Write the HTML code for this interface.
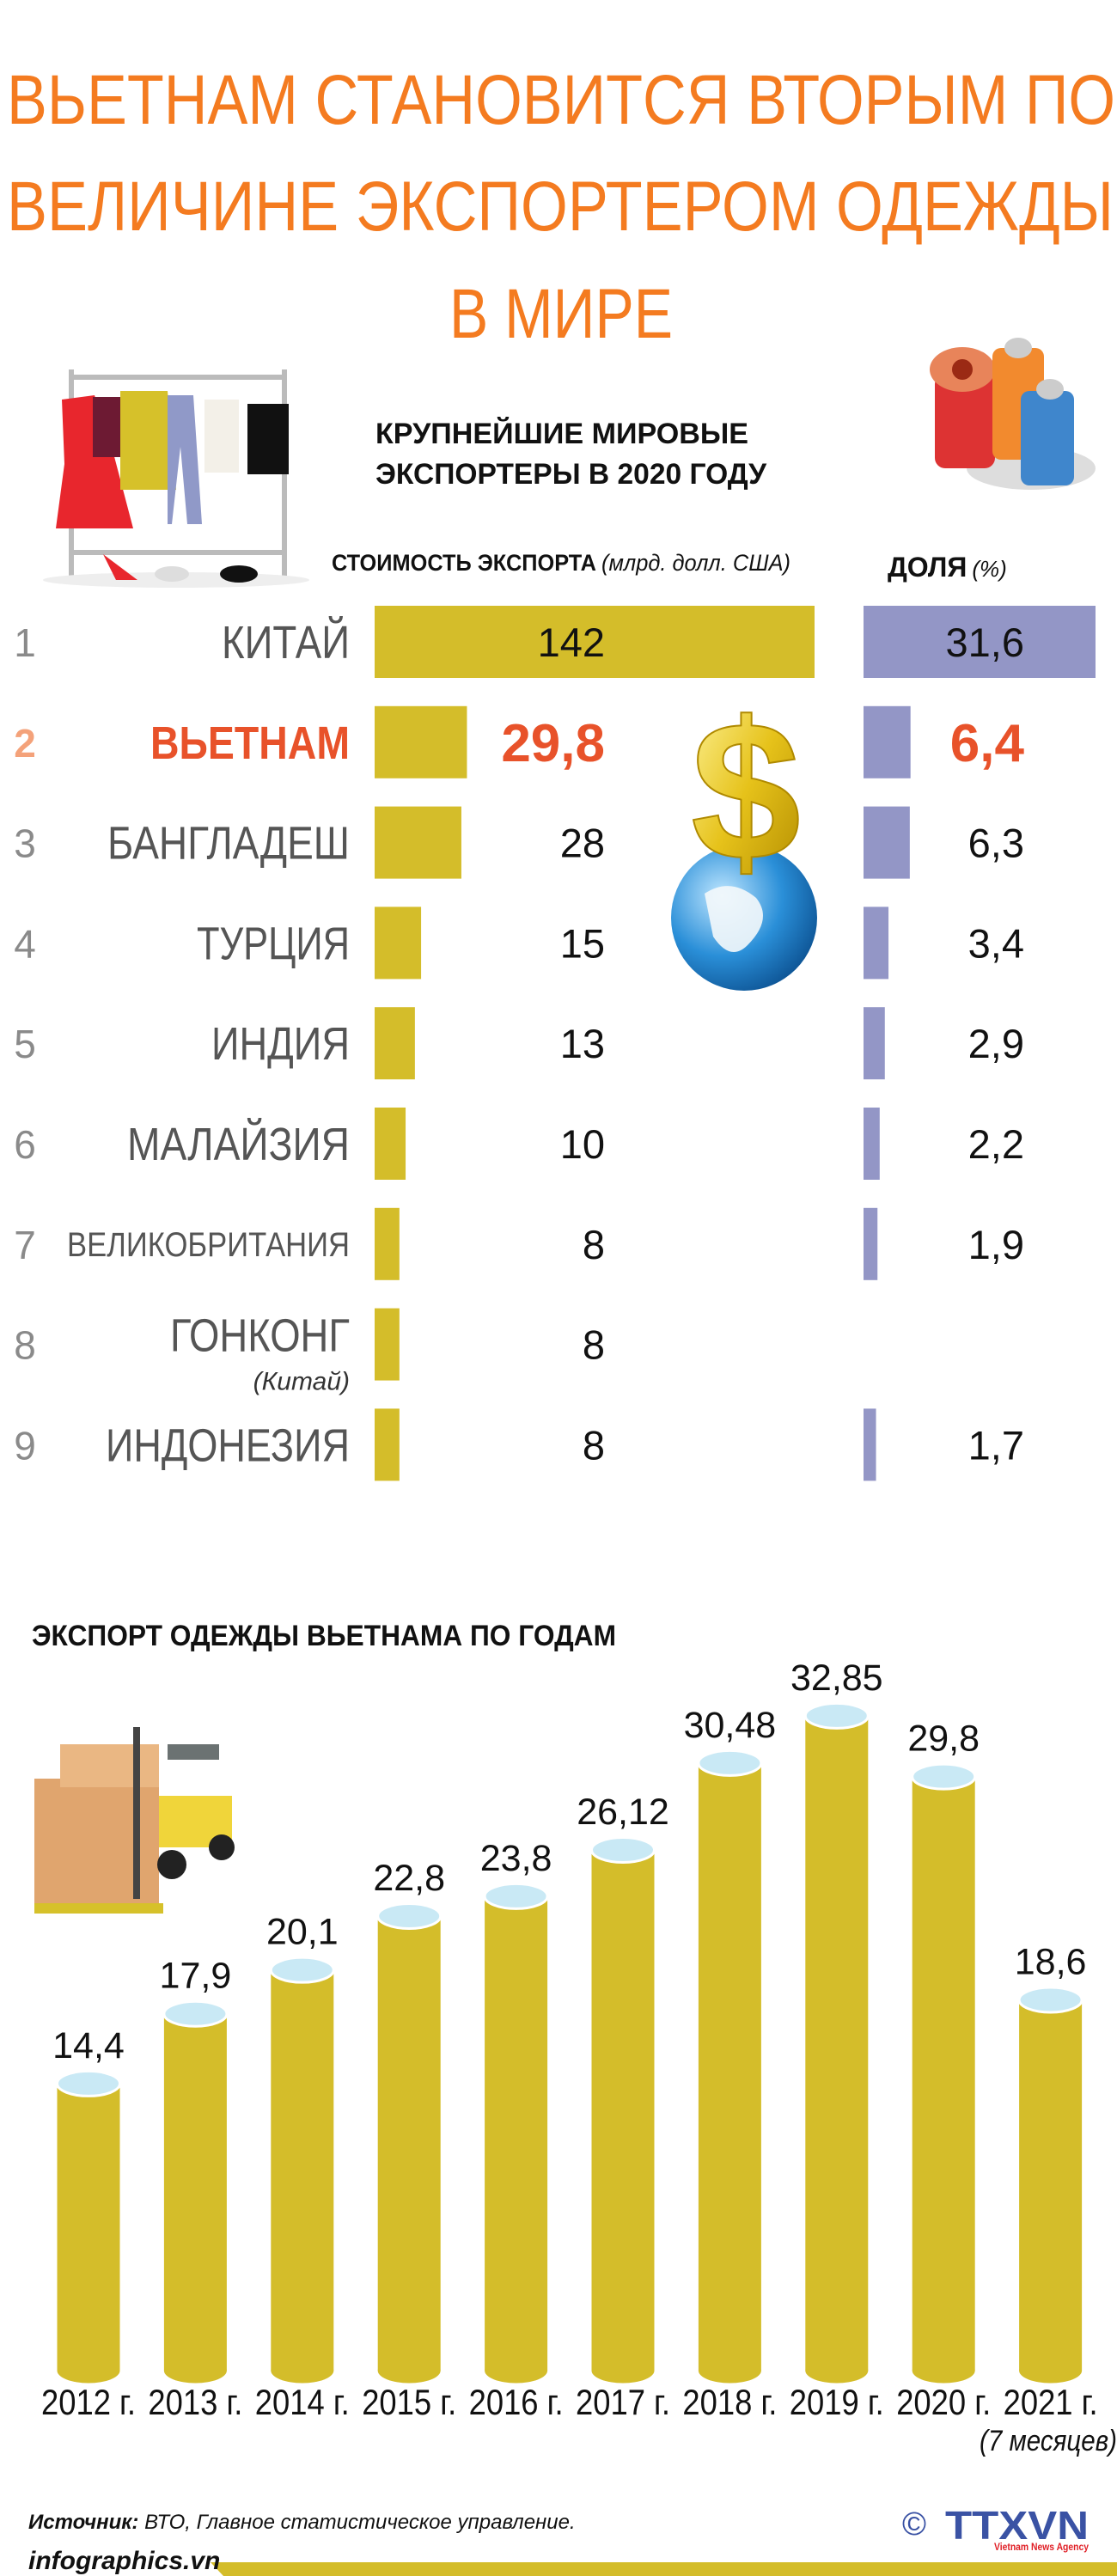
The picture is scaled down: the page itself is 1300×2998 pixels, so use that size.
<!DOCTYPE html>
<html><head><meta charset="utf-8"><style>
html,body{margin:0;padding:0;background:#fff;}
svg{display:block;font-family:"Liberation Sans",sans-serif;}
</style></head><body>
<svg id="root" width="1300" height="2998" viewBox="0 0 1300 2998" xmlns="http://www.w3.org/2000/svg">
<defs>
<radialGradient id="globeG" cx="0.35" cy="0.35" r="0.75"><stop offset="0" stop-color="#bfe6ff"/><stop offset="0.55" stop-color="#2a8fd8"/><stop offset="1" stop-color="#0b4f8f"/></radialGradient>
<linearGradient id="goldG" x1="0" y1="0" x2="1" y2="1"><stop offset="0" stop-color="#fff6a0"/><stop offset="0.5" stop-color="#e6c21a"/><stop offset="1" stop-color="#b08a00"/></linearGradient>
</defs>
<g fill="#f47b20" font-size="82">
<text x="8" y="144" textLength="1290" lengthAdjust="spacingAndGlyphs">ВЬЕТНАМ СТАНОВИТСЯ ВТОРЫМ ПО</text>
<text x="8" y="268" textLength="1288" lengthAdjust="spacingAndGlyphs">ВЕЛИЧИНЕ ЭКСПОРТЕРОМ ОДЕЖДЫ</text>
<text x="523" y="393" textLength="260" lengthAdjust="spacingAndGlyphs">В МИРЕ</text>
</g>
<g>
<rect x="80" y="430" width="6" height="240" fill="#bbb"/><rect x="328" y="430" width="6" height="240" fill="#bbb"/>
<rect x="80" y="436" width="254" height="6" fill="#bbb"/><rect x="80" y="640" width="254" height="6" fill="#bbb"/>
<ellipse cx="205" cy="675" rx="155" ry="9" fill="#eee"/>
<path d="M72 465 L110 460 L130 520 L155 615 L65 615 L75 540 Z" fill="#e8262d"/>
<rect x="108" y="462" width="48" height="70" fill="#6d1a33"/>
<path d="M140 455 L195 455 L205 570 L140 570 Z" fill="#d6c12a"/>
<path d="M195 460 L225 460 L235 610 L218 610 L210 520 L200 610 L195 610 Z" fill="#9099c8"/>
<rect x="238" y="465" width="40" height="85" fill="#f3f0e8"/>
<rect x="288" y="470" width="48" height="82" fill="#111"/>
<path d="M120 645 L135 675 L160 675 Z" fill="#e8262d"/><ellipse cx="200" cy="668" rx="20" ry="9" fill="#ddd"/><ellipse cx="278" cy="668" rx="22" ry="10" fill="#111"/>
</g>
<g>
<ellipse cx="1200" cy="545" rx="75" ry="25" fill="#ddd"/>
<rect x="1088" y="435" width="70" height="110" rx="12" fill="#d33"/><ellipse cx="1120" cy="430" rx="38" ry="26" fill="#e8845a"/><circle cx="1120" cy="430" r="12" fill="#9b2a14"/>
<rect x="1155" y="405" width="60" height="130" rx="10" fill="#f28a2e"/><ellipse cx="1185" cy="405" rx="16" ry="12" fill="#ccc"/>
<rect x="1188" y="455" width="62" height="110" rx="10" fill="#3f86cc"/><ellipse cx="1222" cy="453" rx="16" ry="12" fill="#ccc"/>
</g>
<g font-weight="bold" font-size="34" fill="#111">
<text x="437" y="516" textLength="434" lengthAdjust="spacingAndGlyphs">КРУПНЕЙШИЕ МИРОВЫЕ</text>
<text x="437" y="563" textLength="455" lengthAdjust="spacingAndGlyphs">ЭКСПОРТЕРЫ В 2020 ГОДУ</text>
</g>
<text x="386" y="664" font-size="27" fill="#111"><tspan font-weight="bold" textLength="308" lengthAdjust="spacingAndGlyphs">СТОИМОСТЬ ЭКСПОРТА</tspan><tspan font-style="italic" dx="6" textLength="220" lengthAdjust="spacingAndGlyphs">(млрд. долл. США)</tspan></text>
<text x="1033" y="671" font-size="32" fill="#111"><tspan font-weight="bold">ДОЛЯ</tspan><tspan font-style="italic" font-size="26" dx="6">(%)</tspan></text>
<g id="rank"></g>
<g>
<circle cx="866" cy="1068" r="85" fill="url(#globeG)"/>
<path d="M820 1040 Q850 1020 880 1045 Q900 1070 870 1100 Q850 1120 830 1090 Z" fill="#f4f8fb" opacity="0.9"/>
<text x="868" y="1000" font-size="230" font-weight="bold" text-anchor="middle" fill="url(#goldG)" stroke="#b08a00" stroke-width="2">$</text>
</g>
<text x="37" y="1915" font-size="34" font-weight="bold" fill="#111" textLength="680" lengthAdjust="spacingAndGlyphs">ЭКСПОРТ ОДЕЖДЫ ВЬЕТНАМА ПО ГОДАМ</text>
<g>
<rect x="40" y="2070" width="145" height="150" fill="#e0a56e"/><rect x="70" y="2030" width="115" height="50" fill="#eab783"/>
<rect x="40" y="2215" width="150" height="12" fill="#d6c12a"/>
<rect x="155" y="2010" width="8" height="200" fill="#444"/>
<rect x="185" y="2090" width="85" height="60" fill="#f0d53a"/><rect x="195" y="2030" width="60" height="18" fill="#6b7272"/>
<circle cx="200" cy="2170" r="17" fill="#222"/><circle cx="258" cy="2150" r="15" fill="#222"/>
</g>
<g id="years"></g>
<text x="1300" y="2852" font-size="34" font-style="italic" text-anchor="end" fill="#111" textLength="160" lengthAdjust="spacingAndGlyphs">(7 месяцев)</text>
<text x="33" y="2943" font-size="24" font-style="italic" fill="#111"><tspan font-weight="bold">Источник:</tspan> ВТО, Главное статистическое управление.</text>
<polygon points="245,2982 1300,2982 1300,2998 260,2998" fill="#d4bd2a"/>
<text x="33" y="2990" font-size="30" font-weight="bold" font-style="italic" fill="#111">infographics.vn</text>
<g>
<text x="1064" y="2950" font-size="38" text-anchor="middle" fill="#3a52a4">©</text>
<text x="1100" y="2955" font-size="46" font-weight="bold" fill="#3a52a4" textLength="167" lengthAdjust="spacingAndGlyphs">TTXVN</text>
<text x="1157" y="2968" font-size="12" font-weight="bold" fill="#e01f26" textLength="110" lengthAdjust="spacingAndGlyphs">Vietnam News Agency</text>
</g>
</svg>
<script>
const countries=["КИТАЙ","ВЬЕТНАМ","БАНГЛАДЕШ","ТУРЦИЯ","ИНДИЯ","МАЛАЙЗИЯ","ВЕЛИКОБРИТАНИЯ","ГОНКОНГ","ИНДОНЕЗИЯ"];
const exportValues=[142,29.8,28,15,13,10,8,8,8];
const exportLabels=["142","29,8","28","15","13","10","8","8","8"];
const shareValues=[31.6,6.4,6.3,3.4,2.9,2.2,1.9,null,1.7];
const shareLabels=["31,6","6,4","6,3","3,4","2,9","2,2","1,9","","1,7"];
const years=["2012 г.","2013 г.","2014 г.","2015 г.","2016 г.","2017 г.","2018 г.","2019 г.","2020 г.","2021 г."];
const yearValues=[14.4,17.9,20.1,22.8,23.8,26.12,30.48,32.85,29.8,18.6];
const yearLabels=["14,4","17,9","20,1","22,8","23,8","26,12","30,48","32,85","29,8","18,6"];

const NS="http://www.w3.org/2000/svg";
function mk(p,tag,a,txt){const e=document.createElementNS(NS,tag);for(const k in a)e.setAttribute(k,a[k]);if(txt!==undefined)e.textContent=txt;p.appendChild(e);return e;}
const xExp=v=>436+v*(512/142);
const xShare=v=>1005+v*(270/31.6);
const rowY=i=>747+i*116.8;
const nameWidths=[149,232,282,178,161,259,329,209,284];
const rank=document.getElementById('rank');
countries.forEach((c,i)=>{
  const cy=rowY(i),hi=i===1;
  const g=mk(rank,'g',{});
  
  
  const rn=mk(g,'text',{x:29,y:cy+17,'font-size':46,fill:hi?'#f4a27a':'#8a8a8a','font-weight':hi?'bold':'normal','text-anchor':'middle'},String(i+1));
  
  
  const fs=i===6?40:54;
  const ny=i===7?cy+8:cy+(i===6?14:19);
  const nm=mk(g,'text',{x:407,y:ny,'font-size':fs,fill:hi?'#e8522a':'#555','font-weight':hi?'bold':'normal','text-anchor':'end',textLength:nameWidths[i],lengthAdjust:'spacingAndGlyphs'},c);
  
  
  if(i===7){const sub=mk(g,'text',{x:407,y:cy+53,'font-size':30,'font-style':'italic',fill:'#333','text-anchor':'end'},'(Китай)');
    
    }
  const b=mk(g,'rect',{x:436,y:cy-42,width:xExp(exportValues[i])-436,height:84,fill:'#d4bd2a'});
  
  
  const vl=mk(g,'text',{x:704,y:cy+(hi?22:17),'font-size':hi?62:47,'font-weight':hi?'bold':'normal',fill:hi?'#e8522a':'#111','text-anchor':'end'},exportLabels[i]);
  
  
  if(shareValues[i]!==null){
    const s=mk(g,'rect',{x:1005,y:cy-42,width:xShare(shareValues[i])-1005,height:84,fill:'#9396c6'});
    
    
    const sl=mk(g,'text',{x:1192,y:cy+(hi?22:17),'font-size':hi?62:47,'font-weight':hi?'bold':'normal',fill:hi?'#e8522a':'#111','text-anchor':'end'},shareLabels[i]);
    
    
  }
});
const yv=v=>2759-v*23.2;
const xc=i=>103+i*124.4;
const yg=document.getElementById('years');
years.forEach((yr,i)=>{
  const cx=xc(i),top=yv(yearValues[i]),base=yv(0);
  const g=mk(yg,'g',{});
  
  
  mk(g,'ellipse',{cx:cx,cy:base,rx:36.5,ry:14.5,fill:'#d4bd2a'});
  const r=mk(g,'rect',{x:cx-36.5,y:top,width:73,height:base-top,fill:'#d4bd2a'});
  
  
  mk(g,'ellipse',{cx:cx,cy:top,rx:36.5,ry:14.5,fill:'#c9e9f5',stroke:'#fff','stroke-width':3});
  const l=mk(g,'text',{x:cx,y:top-30,'font-size':43,'text-anchor':'middle',fill:'#111'},yearLabels[i]);
  
  
  const t=mk(g,'text',{x:cx,y:2810,'font-size':42,'text-anchor':'middle',fill:'#111',textLength:110,lengthAdjust:'spacingAndGlyphs'},yr);
  
  
});
</script>
</body></html>
